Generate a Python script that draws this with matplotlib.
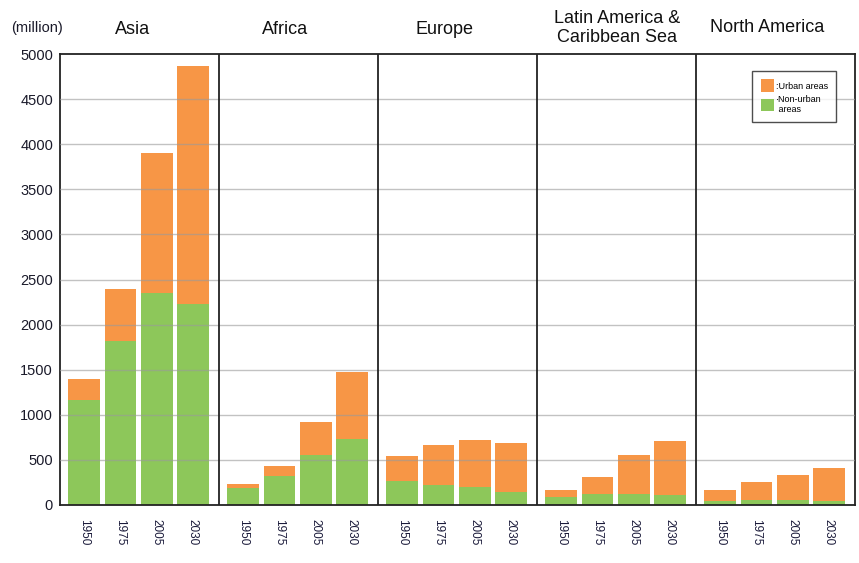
import matplotlib
matplotlib.use("Agg")
import matplotlib.pyplot as plt
from matplotlib.patches import Patch

plt.rcParams["font.family"] = ["Liberation Sans", "DejaVu Sans"]

regions = ["Asia", "Africa", "Europe", "Latin America &\nCaribbean Sea", "North America"]
years = ["1950", "1975", "2005", "2030"]
total = [
    [1400, 2390, 3900, 4870],
    [230, 430, 920, 1470],
    [540, 670, 720, 690],
    [165, 315, 550, 715],
    [163, 250, 335, 405],
]
non_urban = [
    [1160, 1820, 2350, 2230],
    [190, 320, 555, 730],
    [265, 222, 196, 141],
    [85, 118, 122, 107],
    [48, 60, 55, 48],
]
yticks = [0, 500, 1000, 1500, 2000, 2500, 3000, 3500, 4000, 4500, 5000]

ORANGE = "#F79646"
GREEN = "#8DC75A"

fig = plt.figure(figsize=(8.59, 5.63), dpi=100)
ax = fig.add_axes([60/859, 1-505/563, 795/859, 451/563])

offsets = [0.152, 0.38, 0.608, 0.835]
width = 0.2
title_x = [133, 285, 445, 617, 767]
title_y = [30, 30, 29, 28, 28]
xpos, xlab = [], []
for i, reg in enumerate(regions):
    for j, yr in enumerate(years):
        x = i + offsets[j]
        nu = non_urban[i][j]
        ur = total[i][j] - nu
        ax.bar(x, nu, width=width, color=GREEN, zorder=2)
        ax.bar(x, ur, width=width, bottom=nu, color=ORANGE, zorder=2)
        xpos.append(x)
        xlab.append(yr)
    fig.text(title_x[i]/859, 1-title_y[i]/563, reg, ha="center", va="center",
             fontsize=13, color="#111111", linespacing=1.2)
for d in range(1, 5):
    ax.axvline(d, color="#222222", lw=1.3, zorder=4)

ax.set_xlim(0, 5)
ax.set_ylim(0, 5000)
ax.set_yticks(yticks)
ax.set_yticklabels([str(v) for v in yticks], fontsize=10.5, color="#1a1a2a")
ax.set_xticks(xpos)
ax.set_xticklabels(xlab, rotation=270, fontsize=8.5, color="#1a1a3a")
ax.tick_params(length=0, pad=10)
ax.tick_params(axis="y", pad=5)
for gy in yticks[1:-1]:
    ax.axhline(gy, color="#9a9a9a", lw=1.0, alpha=0.6, zorder=3)
for s in ax.spines.values():
    s.set_color("#222222")
    s.set_linewidth(1.3)

fig.text(37/859, 1-28/563, "(million)", ha="center", va="center", fontsize=10.5, color="#1a1a2a")

handles = [Patch(facecolor=ORANGE, label=":Urban areas"),
           Patch(facecolor=GREEN, label="·Non-urban\n areas")]
leg = ax.legend(handles=handles, loc="upper right", bbox_to_anchor=(0.982, 0.972),
                fontsize=6.5, frameon=True, fancybox=False, handlelength=1.5,
                handleheight=1.8, handletextpad=0.2, borderpad=0.9, labelspacing=0.3)
leg.get_frame().set_edgecolor("#222222")
leg.get_frame().set_linewidth(1.0)
leg.set_zorder(5)

fig.savefig("out.png", dpi=100)
